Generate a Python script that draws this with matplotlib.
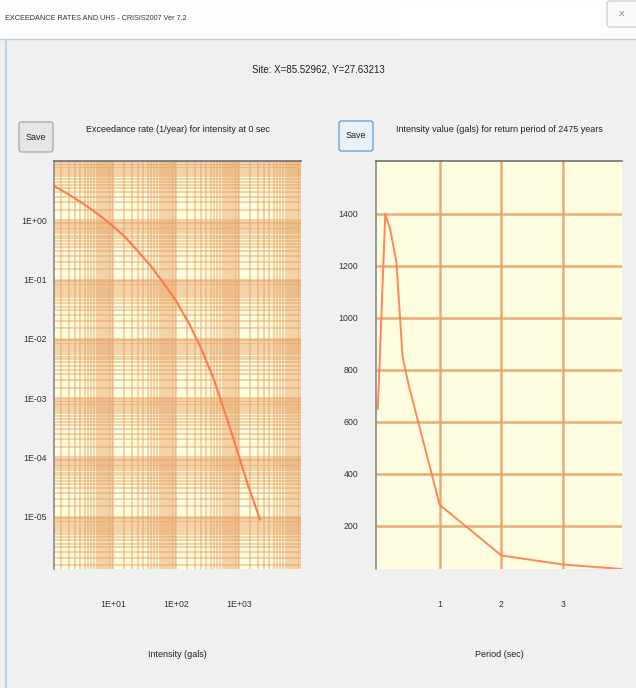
import matplotlib.pyplot as plt
import numpy as np
from matplotlib.patches import FancyBboxPatch, Rectangle
from matplotlib.lines import Line2D
from matplotlib.ticker import FixedLocator, LogLocator, NullFormatter

plt.rcParams['font.family'] = ['Liberation Sans Narrow', 'Liberation Sans', 'DejaVu Sans']

# exceedance rate curve (left)
intensity = [1.2, 2.0, 3.8, 6.3, 10, 16, 25, 40, 63, 100, 160, 250, 400, 630, 1000, 1400, 2140]
exc_rate = [3.7, 2.7, 1.74, 1.17, 0.79, 0.50, 0.295, 0.166, 0.087, 0.043, 0.018,
            0.0068, 0.0020, 4.7e-4, 1.0e-4, 3.2e-5, 8.9e-6]

# uniform hazard spectrum (right)
period = [0.0, 0.12, 0.2, 0.3, 0.4, 0.5, 1.0, 2.0, 3.0, 3.95]
uhs = [650, 1400, 1340, 1215, 850, 740, 280, 85, 50, 33]

left_yticks = [1e0, 1e-1, 1e-2, 1e-3, 1e-4, 1e-5]
left_ylabels = ["1E+00", "1E-01", "1E-02", "1E-03", "1E-04", "1E-05"]
left_xticks = [10, 100, 1000]
left_xlabels = ["1E+01", "1E+02", "1E+03"]
right_yticks = [200, 400, 600, 800, 1000, 1200, 1400]
right_xticks = [1, 2, 3]

W, H = 636, 688
fig = plt.figure(figsize=(W / 100, H / 100), dpi=100)
fig.patch.set_facecolor("#f0f0f0")

def fx(x):
    return x / W

def fy(y):
    return 1 - y / H

# window chrome
fig.patches.append(Rectangle((0, fy(39)), 1, 39 / H, transform=fig.transFigure,
                             facecolor="#fbfdfe", edgecolor="none", zorder=0))
fig.patches.append(Rectangle((fx(400), fy(36)), 200 / W, 30 / H, transform=fig.transFigure,
                             facecolor="#ffffff", edgecolor="none", zorder=0))
fig.add_artist(Line2D([0, 1], [fy(39), fy(39)], color="#c8ccd0", lw=1.0))
fig.add_artist(Line2D([fx(6), fx(6)], [0, fy(40)], color="#b9d7ea", lw=1.5))
fig.patches.append(FancyBboxPatch((fx(607), fy(27)), 40 / W, 26 / H, transform=fig.transFigure,
                                  boxstyle="round,pad=0,rounding_size=0.004",
                                  facecolor="#fafafa", edgecolor="#c8c8c8", lw=0.8))
fig.text(fx(622), fy(15), "X", fontsize=6, color="#777777", ha="center", va="center")
fig.text(fx(5), fy(18), "EXCEEDANCE RATES AND UHS - CRISIS2007 Ver 7.2",
         fontsize=5.2, color="#333333", ha="left", va="center")
fig.text(fx(318), fy(70), "Site: X=85.52962, Y=27.63213",
         fontsize=7, color="#222222", ha="center", va="center")

def save_button(x0, y0, focused=False):
    ec = "#5fa8d8" if focused else "#adadad"
    fc = "#e8f1f8" if focused else "#e6e6e6"
    fig.patches.append(FancyBboxPatch((fx(x0), fy(y0 + 30)), 34 / W, 30 / H,
                                      transform=fig.transFigure,
                                      boxstyle="round,pad=0,rounding_size=0.004",
                                      facecolor=fc, edgecolor=ec, lw=1.0))
    fig.text(fx(x0 + 17), fy(y0 + 15), "Save", fontsize=6.5, color="#222222",
             ha="center", va="center")

save_button(19, 122)
save_button(339, 121, focused=True)

grid_col = "#e6a467"
line_col = "#ff7a4a"
bg_col = "#fffde0"

# left chart
ax1 = fig.add_axes([fx(54), fy(569), 247 / W, 408 / H])
ax1.set_facecolor(bg_col)
ax1.set_xscale("log")
ax1.set_yscale("log")
ax1.set_xlim(10 ** 0.06, 10 ** 3.98)
ax1.set_ylim(1.3e-6, 10)
ax1.xaxis.set_major_locator(FixedLocator(left_xticks))
ax1.set_xticklabels(left_xlabels)
ax1.yaxis.set_major_locator(FixedLocator(left_yticks))
ax1.set_yticklabels(left_ylabels)
ax1.xaxis.set_minor_locator(LogLocator(base=10, subs=np.arange(1, 10, 0.5), numticks=50))
ax1.yaxis.set_minor_locator(LogLocator(base=10, subs=np.arange(1, 10, 0.5), numticks=50))
ax1.xaxis.set_minor_formatter(NullFormatter())
ax1.yaxis.set_minor_formatter(NullFormatter())
ax1.grid(True, which="both", color=grid_col, lw=1.1, alpha=0.6)
ax1.set_axisbelow(True)
ax1.plot(intensity, exc_rate, color=line_col, lw=1.5, zorder=3)
ax1.tick_params(axis="x", which="both", length=0, pad=22, labelsize=6.3, labelcolor="#333333")
ax1.tick_params(axis="y", which="both", length=0, pad=5, labelsize=6.3, labelcolor="#333333")
ax1.set_title("Exceedance rate (1/year) for intensity at 0 sec", fontsize=6.5,
              color="#222222", pad=21)
ax1.set_xlabel("Intensity (gals)", fontsize=6.5, color="#222222", labelpad=30)

# right chart
ax2 = fig.add_axes([fx(376), fy(569), 246 / W, 408 / H])
ax2.set_facecolor(bg_col)
ax2.set_xlim(-0.03, 3.95)
ax2.set_ylim(33, 1604)
ax2.set_xticks(right_xticks)
ax2.set_yticks(right_yticks)
ax2.grid(True, color=grid_col, lw=1.8, alpha=0.9)
ax2.set_axisbelow(True)
ax2.plot(period, uhs, color=line_col, lw=1.4, alpha=0.9, zorder=3)
ax2.tick_params(axis="x", length=0, pad=22, labelsize=6.3, labelcolor="#333333")
ax2.tick_params(axis="y", length=0, pad=13, labelsize=6.3, labelcolor="#333333")
ax2.set_title("Intensity value (gals) for return period of 2475 years", fontsize=6.5,
              color="#222222", pad=21)
ax2.set_xlabel("Period (sec)", fontsize=6.5, color="#222222", labelpad=30)

for ax in (ax1, ax2):
    ax.spines["right"].set_visible(False)
    ax.spines["bottom"].set_visible(False)
    ax.spines["left"].set_color("#8a8a8a")
    ax.spines["top"].set_color("#707070")
    ax.spines["left"].set_linewidth(1.2)
    ax.spines["top"].set_linewidth(1.2)

fig.savefig("out.png", dpi=100, facecolor=fig.get_facecolor())
